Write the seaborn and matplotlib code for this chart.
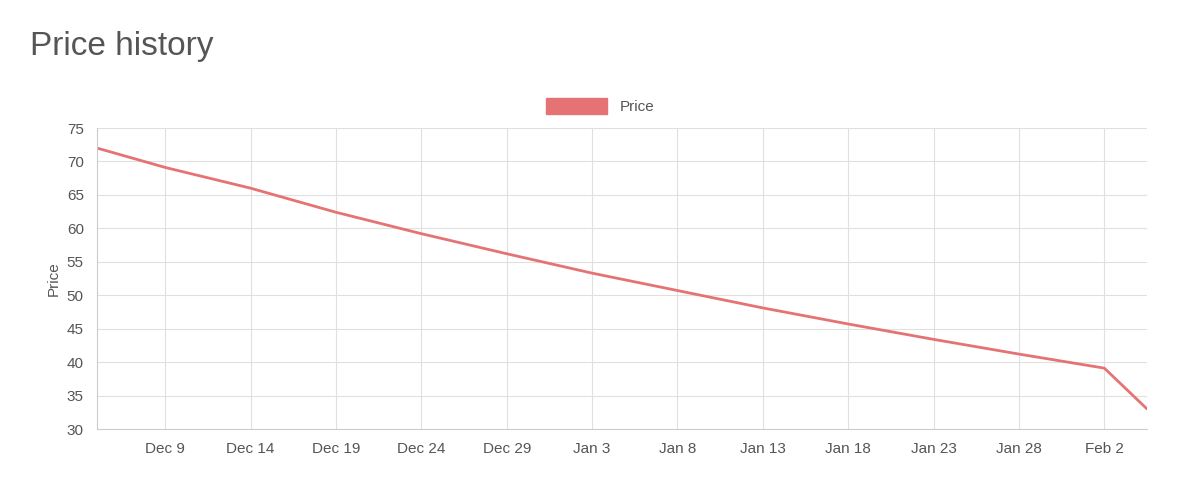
import matplotlib
matplotlib.use("Agg")
from matplotlib import pyplot as plt
import matplotlib.patches as mpatches
import pandas as pd
import seaborn as sns

dates = ["2018-12-05 00:00", "2018-12-09 00:00", "2018-12-14 00:00", "2018-12-19 00:00",
         "2018-12-24 00:00", "2018-12-29 00:00", "2019-01-03 00:00", "2019-01-08 00:00",
         "2019-01-13 00:00", "2019-01-18 00:00", "2019-01-23 00:00", "2019-01-28 00:00",
         "2019-02-02 00:00", "2019-02-04 12:00"]
prices = [72.0, 69.1, 66.0, 62.4, 59.2, 56.2, 53.3, 50.7, 48.1, 45.7,
          43.4, 41.2, 39.1, 33.0]
tick_dates = ["2018-12-09", "2018-12-14", "2018-12-19", "2018-12-24", "2018-12-29",
              "2019-01-03", "2019-01-08", "2019-01-13", "2019-01-18", "2019-01-23",
              "2019-01-28", "2019-02-02"]

df = pd.DataFrame({"date": pd.to_datetime(dates, format="%Y-%m-%d %H:%M"), "price": prices})
color = "#e57373"

sns.set_style("white")
plt.rcParams["font.family"] = ["Liberation Sans", "DejaVu Sans"]
fig = plt.figure(figsize=(12, 4.98), dpi=100)
ax = fig.add_axes([97 / 1200, 1 - 429 / 498, (1147 - 97) / 1200, (429 - 128) / 498])
sns.lineplot(data=df, x="date", y="price", ax=ax, color=color, linewidth=2)

ax.set_xlim(df["date"].iloc[0], df["date"].iloc[-1])
ax.set_ylim(30, 75)
ax.set_yticks(range(30, 76, 5))
ticks = pd.to_datetime(tick_dates)
ax.set_xticks(ticks)
ax.set_xticklabels([f"{t.strftime('%b')} {t.day}" for t in ticks])
ax.grid(True, color="#e0e0e0", linewidth=0.8)
for s in ["top", "right"]:
    ax.spines[s].set_visible(False)
for s in ["left", "bottom"]:
    ax.spines[s].set_color("#cccccc")
ax.tick_params(axis="both", colors="#555555", labelsize=11, length=6, color="#e0e0e0")
ax.set_xlabel("")
ax.set_ylabel("Price", color="#555555", fontsize=11)

fig.text(30 / 1200, 1 - 47 / 498, "Price history", fontsize=24, color="#555555", va="center")
handle = mpatches.Patch(color=color, label="Price")
fig.legend(handles=[handle], loc="center", bbox_to_anchor=(0.5, 1 - 106 / 498),
           frameon=False, fontsize=11, handlelength=4, handleheight=1.3,
           labelcolor="#555555")

plt.savefig("out.png")
